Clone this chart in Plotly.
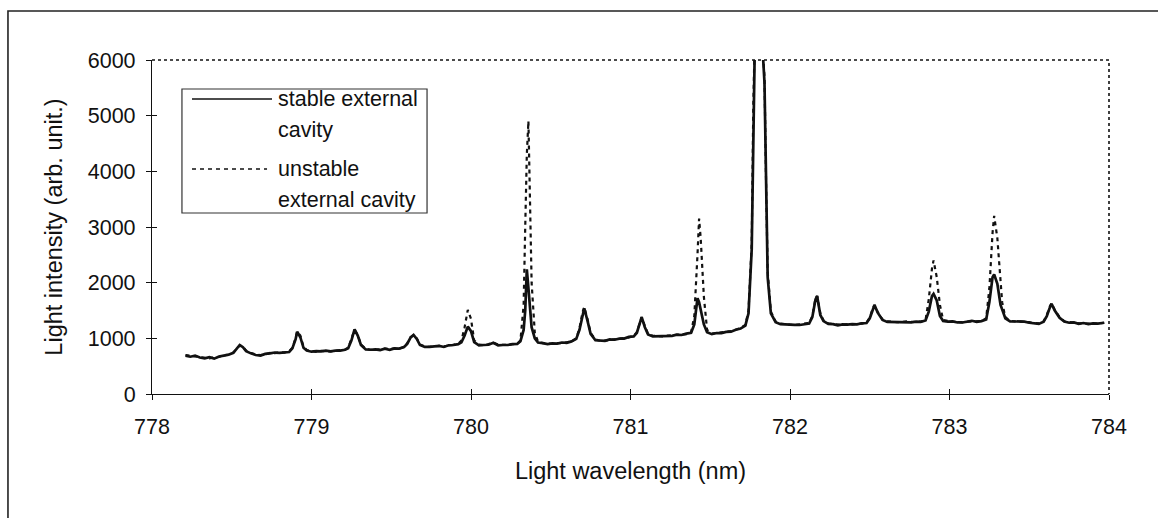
import plotly.graph_objects as go

wavelength = [
    778.21, 778.24, 778.27, 778.30, 778.33, 778.36, 778.39, 778.42, 778.45, 778.48,
    778.51, 778.53, 778.55, 778.57, 778.59, 778.62, 778.65, 778.68, 778.71, 778.74,
    778.77, 778.80, 778.83, 778.86, 778.88, 778.90, 778.91, 778.93, 778.95, 778.97,
    779.00, 779.03, 779.06, 779.09, 779.12, 779.15, 779.18, 779.21, 779.23, 779.25,
    779.27, 779.29, 779.31, 779.34, 779.37, 779.40, 779.43, 779.46, 779.49, 779.52,
    779.55, 779.58, 779.60, 779.62, 779.64, 779.66, 779.68, 779.71, 779.74, 779.77,
    779.80, 779.83, 779.86, 779.89, 779.92, 779.94, 779.96, 779.98, 780.00, 780.02,
    780.05, 780.08, 780.11, 780.14, 780.17, 780.20, 780.23, 780.26, 780.29, 780.31,
    780.33, 780.34, 780.35, 780.36, 780.37, 780.38, 780.40, 780.42, 780.45, 780.48,
    780.51, 780.54, 780.57, 780.60, 780.63, 780.66, 780.68, 780.70, 780.71, 780.73,
    780.75, 780.78, 780.81, 780.84, 780.87, 780.90, 780.93, 780.96, 780.99, 781.02,
    781.04, 781.06, 781.07, 781.09, 781.11, 781.14, 781.17, 781.20, 781.23, 781.26,
    781.29, 781.32, 781.35, 781.38, 781.40, 781.42, 781.43, 781.44, 781.45, 781.46,
    781.48, 781.51, 781.54, 781.57, 781.60, 781.63, 781.66, 781.69, 781.72, 781.74,
    781.76, 781.77, 781.78, 781.80, 781.82, 781.84, 781.85, 781.86, 781.88, 781.91,
    781.94, 781.97, 782.00, 782.03, 782.06, 782.09, 782.12, 782.14, 782.16, 782.17,
    782.19, 782.21, 782.24, 782.27, 782.30, 782.33, 782.36, 782.39, 782.42, 782.45,
    782.48, 782.50, 782.52, 782.53, 782.55, 782.58, 782.61, 782.64, 782.67, 782.70,
    782.73, 782.76, 782.79, 782.82, 782.85, 782.87, 782.89, 782.90, 782.92, 782.94,
    782.96, 782.99, 783.02, 783.05, 783.08, 783.11, 783.14, 783.17, 783.20, 783.23,
    783.25, 783.27, 783.28, 783.30, 783.32, 783.33, 783.35, 783.38, 783.41, 783.44,
    783.47, 783.50, 783.53, 783.56, 783.59, 783.61, 783.63, 783.64, 783.66, 783.69,
    783.72, 783.75, 783.78, 783.81, 783.84, 783.87, 783.90, 783.93, 783.97,
]

stable_intensity = [
    690, 670, 690, 655, 640, 660, 635, 675, 690, 705,
    740, 810, 880, 840, 770, 730, 700, 690, 720, 730,
    745, 740, 750, 755, 820, 980, 1120, 1020, 830, 780,
    760, 770, 765, 780, 765, 780, 780, 795, 820, 960,
    1160, 1050, 880, 800, 795, 800, 790, 815, 795, 820,
    815, 845, 900, 1010, 1060, 990, 880, 845, 845, 850,
    865, 845, 875, 880, 895, 930, 1050, 1210, 1130, 930,
    875, 880, 885, 920, 875, 880, 880, 895, 900, 950,
    1150, 1500, 2240, 1900, 1450, 1200, 1000, 925, 915, 895,
    910, 905, 925, 920, 945, 990, 1150, 1450, 1540, 1320,
    1080, 965, 955, 955, 980, 975, 995, 995, 1025, 1035,
    1100, 1280, 1380, 1200, 1070, 1035, 1040, 1035, 1050, 1045,
    1065, 1060, 1085, 1100, 1250, 1720, 1650, 1500, 1400, 1250,
    1110, 1075, 1095, 1095, 1115, 1120, 1155, 1175, 1230, 1450,
    2600, 5000, 6400, 6700, 6600, 5600, 3600, 2100, 1450, 1290,
    1255, 1250, 1235, 1240, 1240, 1255, 1265, 1380, 1700, 1760,
    1420, 1310, 1260, 1255, 1235, 1250, 1245, 1255, 1250, 1270,
    1275, 1360, 1540, 1600, 1460, 1330, 1295, 1295, 1290, 1295,
    1295, 1285, 1300, 1295, 1320, 1480, 1760, 1800, 1680, 1400,
    1310, 1300, 1305, 1285, 1285, 1295, 1315, 1295, 1310, 1340,
    1650, 2100, 2150, 1980, 1600, 1520, 1360, 1305, 1305, 1300,
    1300, 1280, 1275, 1260, 1300, 1400, 1560, 1620, 1500, 1370,
    1300, 1280, 1285, 1260, 1275, 1255, 1270, 1265, 1280,
]

unstable_intensity = [
    700, 690, 680, 665, 650, 640, 660, 665, 695, 710,
    745, 800, 870, 850, 780, 735, 710, 700, 710, 740,
    735, 750, 745, 770, 830, 1000, 1120, 1050, 850, 790,
    770, 755, 775, 770, 765, 780, 790, 795, 830, 980,
    1150, 1060, 890, 810, 795, 795, 805, 815, 805, 820,
    815, 845, 910, 1020, 1060, 1000, 890, 855, 845, 850,
    865, 855, 875, 885, 900, 960, 1200, 1510, 1350, 960,
    890, 875, 895, 920, 885, 880, 880, 895, 900, 960,
    1600, 3000, 4300, 4900, 3500, 2000, 1100, 940, 915, 905,
    900, 915, 915, 930, 945, 1000, 1180, 1480, 1560, 1350,
    1100, 980, 955, 960, 970, 985, 995, 1005, 1015, 1045,
    1110, 1290, 1380, 1220, 1080, 1045, 1040, 1035, 1050, 1055,
    1060, 1070, 1075, 1110, 1400, 2500, 3150, 2800, 2300, 1750,
    1150, 1085, 1095, 1105, 1115, 1130, 1155, 1185, 1240, 1500,
    2700, 5200, 6500, 6700, 6600, 5700, 3800, 2200, 1480, 1300,
    1265, 1250, 1245, 1240, 1250, 1255, 1275, 1400, 1720, 1760,
    1450, 1320, 1270, 1255, 1245, 1240, 1255, 1250, 1260, 1265,
    1285, 1370, 1550, 1600, 1470, 1340, 1305, 1295, 1290, 1295,
    1305, 1295, 1300, 1300, 1330, 1700, 2250, 2400, 2100, 1600,
    1330, 1310, 1300, 1295, 1285, 1300, 1305, 1305, 1310, 1360,
    1900, 2900, 3200, 2800, 1900, 1650, 1380, 1315, 1305, 1300,
    1300, 1290, 1275, 1270, 1305, 1420, 1580, 1630, 1510, 1380,
    1305, 1290, 1275, 1270, 1265, 1265, 1270, 1265, 1280,
]

x_ticks = [778, 779, 780, 781, 782, 783, 784]
y_ticks = [0, 1000, 2000, 3000, 4000, 5000, 6000]
legend_labels = [["stable external", "cavity"], ["unstable", "external cavity"]]
x_title = "Light wavelength (nm)"
y_title = "Light intensity (arb. unit.)"

assert len(wavelength) == len(stable_intensity) == len(unstable_intensity)

FONT = "Liberation Sans, Arial, Helvetica, sans-serif"
INK = "#111111"
TICK_SIZE = 21.5
TITLE_SIZE = 23.5

fig = go.Figure()
fig.add_trace(go.Scatter(
    x=wavelength, y=unstable_intensity, mode="lines", name="unstable external cavity",
    line=dict(color=INK, width=2.2, dash="4px,4px"), xaxis="x", yaxis="y",
    showlegend=False, hoverinfo="skip"))
fig.add_trace(go.Scatter(
    x=wavelength, y=stable_intensity, mode="lines", name="stable external cavity",
    line=dict(color=INK, width=2.7), xaxis="x2", yaxis="y2",
    showlegend=False, hoverinfo="skip"))

axis_common = dict(showgrid=False, zeroline=False, tickcolor=INK, tickwidth=1.2, ticklen=5)
fig.update_layout(
    width=1158, height=518,
    margin=dict(l=152, r=49, t=60, b=124),
    paper_bgcolor="white", plot_bgcolor="white",
    font=dict(family=FONT, size=TICK_SIZE, color=INK),
    xaxis=dict(range=[778, 784], tickvals=x_ticks, ticks="outside", showline=True,
               linecolor=INK, linewidth=1.2, ticklabelstandoff=8,
               tickfont=dict(size=TICK_SIZE),
               title=dict(text=x_title, standoff=24, font=dict(size=TITLE_SIZE)), **axis_common),
    yaxis=dict(range=[0, 6000], tickvals=y_ticks, ticks="outside", showline=True,
               linecolor=INK, linewidth=1.2, ticklabelstandoff=6,
               tickfont=dict(size=TICK_SIZE),
               title=dict(text=y_title, standoff=18, font=dict(size=TITLE_SIZE)), **axis_common),
    xaxis2=dict(range=[778, 784], tickvals=x_ticks, ticks="inside", overlaying="x",
                anchor="y2", side="bottom", showticklabels=False, showline=False, **axis_common),
    yaxis2=dict(range=[0, 6000], tickvals=y_ticks, ticks="inside", overlaying="y",
                anchor="x2", side="left", showticklabels=False, showline=False, **axis_common),
)

shapes = []
# dotted top and right borders of the plot area
shapes.append(dict(type="path", xref="paper", yref="paper", path="M 0,1 L 1,1 L 1,0",
                   line=dict(color=INK, width=1.6, dash="dot")))
# outer chart frame (extends past the right and bottom of the picture)
shapes.append(dict(type="rect", xref="paper", yref="paper", x0=-0.1505, y0=-0.45, x1=1.08, y1=1.1467,
                   line=dict(color="#222222", width=1.6), layer="below"))
# legend box
shapes.append(dict(type="rect", xref="paper", yref="paper", x0=0.0313, y0=0.5419, x1=0.2874, y1=0.9132,
                   line=dict(color="#333333", width=1.2), fillcolor="white"))
# legend samples
shapes.append(dict(type="line", xref="paper", yref="paper", x0=0.0418, x1=0.1254, y0=0.8832, y1=0.8832,
                   line=dict(color=INK, width=1.6)))
shapes.append(dict(type="line", xref="paper", yref="paper", x0=0.0418, x1=0.1202, y0=0.6737, y1=0.6737,
                   line=dict(color=INK, width=1.6, dash="4px,4px")))
fig.update_layout(shapes=shapes)

legend_rows = [(legend_labels[0][0], 0.8832), (legend_labels[0][1], 0.7904),
               (legend_labels[1][0], 0.6737), (legend_labels[1][1], 0.5808)]
for txt, yy in legend_rows:
    fig.add_annotation(text=txt, xref="paper", yref="paper", x=0.1296, y=yy,
                       xanchor="left", yanchor="middle", showarrow=False,
                       font=dict(family=FONT, size=TICK_SIZE, color=INK))

fig.write_html("out.html")
